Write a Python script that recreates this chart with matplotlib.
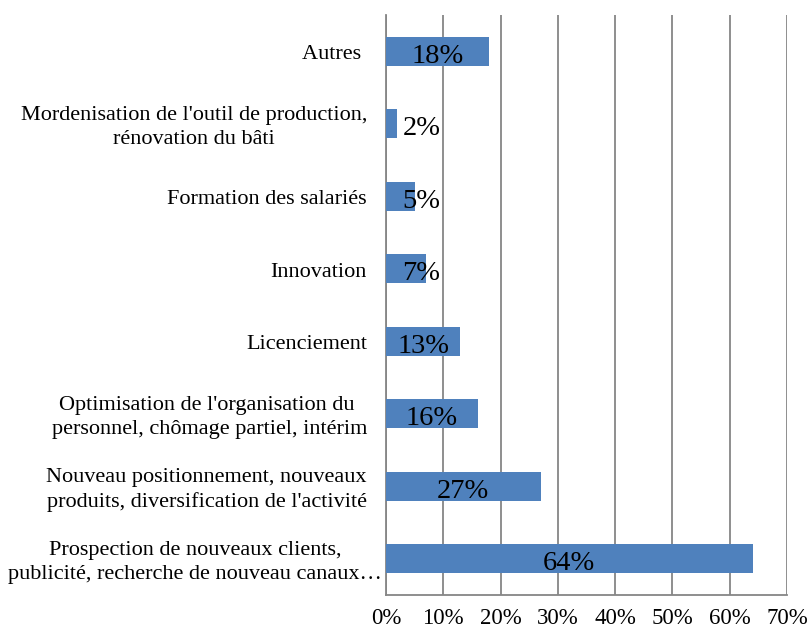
import matplotlib
matplotlib.use("Agg")
import matplotlib.pyplot as plt
from matplotlib.ticker import FuncFormatter
from matplotlib.transforms import ScaledTranslation

categories = [
    "Prospection de nouveaux clients,\npublicité, recherche de nouveau canaux…",
    "Nouveau positionnement, nouveaux\nproduits, diversification de l'activité",
    "Optimisation de l'organisation du \npersonnel, chômage partiel, intérim",
    "Licenciement",
    "Innovation",
    "Formation des salariés",
    "Mordenisation de l'outil de production,\nrénovation du bâti",
    "Autres ",
]
values = [64, 27, 16, 13, 7, 5, 2, 18]
xticks = [0, 10, 20, 30, 40, 50, 60, 70]

plt.rcParams["font.family"] = ["Liberation Serif", "DejaVu Serif"]

fig = plt.figure(figsize=(8.1, 6.32), dpi=100)
ax = fig.add_axes([0.4765, 0.0585, 0.4951, 0.9175])

y = list(range(len(categories)))
ax.barh(y, values, height=0.4, color="#4F81BD", zorder=3)

# labels sit in the middle of the bar, but never closer to the axis than Excel allows
nudge = ax.transData + ScaledTranslation(0, -0.02, fig.dpi_scale_trans)
for yi, v in zip(y, values):
    ax.text(max(v / 2, 6.2), yi, f"{v}%", ha="center", va="center_baseline",
            fontsize=20.5, color="black", zorder=4, transform=nudge)

ax.set_xlim(0, 70)
ax.set_ylim(-0.5, len(categories) - 0.5)
ax.set_xticks(xticks)
ax.xaxis.set_major_formatter(FuncFormatter(lambda v, _: f"{v:.0f}%"))
ax.set_yticks(y)
ax.set_yticklabels([""] * len(categories))

# category labels drawn by hand: the longest one runs past the others, as in Excel
for yi, cat in zip(y, categories):
    shift = -0.04 if cat.endswith("…") else -0.19
    tr = ax.get_yaxis_transform() + ScaledTranslation(shift, -0.035, fig.dpi_scale_trans)
    ax.text(0, yi, cat, transform=tr, ha="right", va="center",
            multialignment="center", fontsize=16, linespacing=1.35)

ax.grid(axis="x", color="#868686", linewidth=1.3, zorder=0)
ax.tick_params(axis="both", length=0)
ax.tick_params(axis="x", pad=9, labelsize=16.5)

for side in ("top", "right"):
    ax.spines[side].set_visible(False)
for side in ("left", "bottom"):
    ax.spines[side].set_color("#868686")
    ax.spines[side].set_linewidth(1.3)

fig.savefig("out.png", dpi=100)
